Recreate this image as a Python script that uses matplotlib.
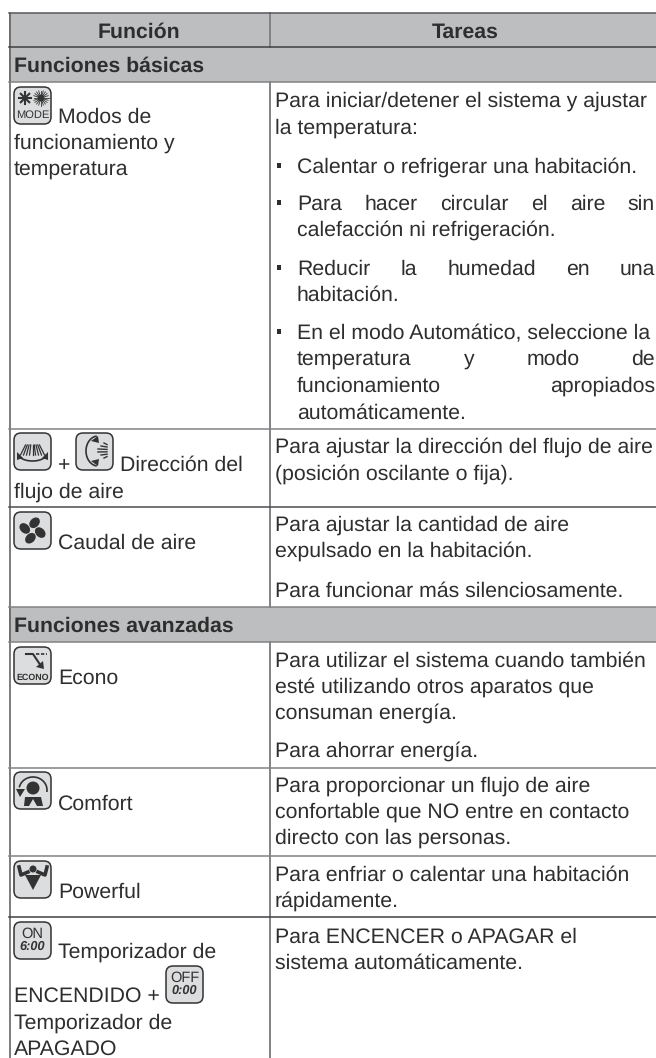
import numpy as np
import matplotlib
matplotlib.use('Agg')
import matplotlib.pyplot as plt
from matplotlib.patches import FancyBboxPatch, Rectangle, Circle, Ellipse, Polygon

plt.rcParams['font.family'] = ['Liberation Sans', 'DejaVu Sans']
plt.rcParams['text.hinting'] = 'no_hinting'
plt.rcParams['text.hinting_factor'] = 8

# table text
headers = ['Función', 'Tareas']
sections = ['Funciones básicas', 'Funciones avanzadas']

left_lines = [
    ('Modos de', 58, 123), ('funcionamiento y', 14, 149), ('temperatura', 14, 175),
    ('+', 58, 471), ('Dirección del', 120, 471), ('flujo de aire', 14, 498),
    ('Caudal de aire', 58, 549),
    ('Econo', 58, 684),
    ('Comfort', 58, 810),
    ('Powerful', 58, 898),
    ('Temporizador de', 58, 958), ('ENCENDIDO +', 14, 1002),
    ('Temporizador de', 14, 1029), ('APAGADO', 14, 1055),
]

right_lines = [
    ('Para iniciar/detener el sistema y ajustar', 275, 107),
    ('la temperatura:', 275, 134),
    ('Calentar o refrigerar una habitación.', 297, 173),
    ('calefacción ni refrigeración.', 297, 236),
    ('habitación.', 297, 301),
    ('En el modo Automático, seleccione la', 297, 339),
    ('automáticamente.', 297, 419),
    ('Para ajustar la dirección del flujo de aire', 275, 453),
    ('(posición oscilante o fija).', 275, 480),
    ('Para ajustar la cantidad de aire', 275, 531),
    ('expulsado en la habitación.', 275, 557),
    ('Para funcionar más silenciosamente.', 275, 597),
    ('Para utilizar el sistema cuando también', 275, 667),
    ('esté utilizando otros aparatos que', 275, 693),
    ('consuman energía.', 275, 719),
    ('Para ahorrar energía.', 275, 757),
    ('Para proporcionar un flujo de aire', 275, 792),
    ('confortable que NO entre en contacto', 275, 818),
    ('directo con las personas.', 275, 844),
    ('Para enfriar o calentar una habitación', 275, 881),
    ('rápidamente.', 275, 907),
    ('Para ENCENCER o APAGAR el', 275, 943),
    ('sistema automáticamente.', 275, 969),
]

# lines set with justified word spacing
justified_lines = [
    ('Para hacer circular el aire sin', 210),
    ('Reducir la humedad en una', 275),
    ('temperatura y modo de', 365),
    ('funcionamiento apropiados', 392),
]
bullet_rows = [173, 210, 275, 339]

# horizontal rules: y, colour
rules = [(13, '#58595b'), (47, '#414042'), (82, '#808285'), (429, '#808285'),
         (507, '#4d4d4f'), (607, '#808285'), (642, '#808285'), (768, '#808285'),
         (856, '#808285'), (917, '#414042')]

TXT = '#2e2e2e'
INK = '#333333'
FS = 15.35

fig = plt.figure(figsize=(6.56, 10.58), dpi=100)
ax = fig.add_axes([0, 0, 1, 1])
ax.set_xlim(0, 656)
ax.set_ylim(1058, 0)
ax.axis('off')

# grey bands
for y0, y1 in [(13, 82), (607, 642)]:
    ax.add_patch(Rectangle((9, y0), 647, y1 - y0, fc='#bcbec0', ec='none', zorder=0))

# grid
ax.plot([9.5, 9.5], [13, 1058], color='#58595b', lw=1.1, zorder=1)
for y0, y1 in [(13, 47), (82, 607), (642, 1058)]:
    ax.plot([270, 270], [y0, y1], color='#808285', lw=1.4, zorder=1)
for y, c in rules:
    ax.plot([9, 656], [y, y], color=c, lw=1.1, zorder=1)

ax.text(139, 38, headers[0], fontsize=FS, fontweight='bold', color=TXT, ha='center', va='baseline')
ax.text(465, 38, headers[1], fontsize=FS, fontweight='bold', color=TXT, ha='center', va='baseline')
ax.text(14, 72, sections[0], fontsize=FS, fontweight='bold', color=TXT, va='baseline')
ax.text(14, 632, sections[1], fontsize=FS, fontweight='bold', color=TXT, va='baseline')

for s, x, y in left_lines + right_lines:
    ax.text(x, y, s, fontsize=FS, color=TXT, va='baseline')

for y in bullet_rows:
    ax.add_patch(Rectangle((276.5, y - 10), 4, 4.6, fc=TXT, ec='none'))

# justified lines, spread between the column edges
renderer = fig.canvas.get_renderer()
for s, y in justified_lines:
    words = [ax.text(297, y, w, fontsize=FS, color=TXT, va='baseline') for w in s.split()]
    widths = [w.get_window_extent(renderer).width for w in words]
    gap = (655 - 297 - sum(widths)) / (len(words) - 1)
    x = 297
    for w, wd in zip(words, widths):
        w.set_x(x)
        x += wd + gap


def box(x, y, w=37, h=37):
    ax.add_patch(FancyBboxPatch((x + 4, y + 4), w - 8, h - 8, boxstyle='round,pad=4,rounding_size=7',
                                fc='#dcddde', ec=INK, lw=1.1, zorder=2))


def star(cx, cy, r, n, lw=0.9):
    for a in np.linspace(0, np.pi, n, endpoint=False):
        dx, dy = r * np.cos(a), r * np.sin(a)
        ax.plot([cx - dx, cx + dx], [cy - dy, cy + dy], color=INK, lw=lw, zorder=3)


def curve(cx, cy, rx, ry, a0, a1, lw=1.2):
    # screen angles, counter clockwise from the right
    t = np.radians(np.linspace(a0, a1, 40))
    ax.plot(cx + rx * np.cos(t), cy - ry * np.sin(t), color=INK, lw=lw, zorder=3)


def tri(pts):
    ax.add_patch(Polygon(pts, fc=INK, ec='none', zorder=3))


def label(x, y, s, fs, **kw):
    ax.text(x, y, s, fontsize=fs, color=INK, ha='center', va='center', zorder=3, **kw)


# mode
box(14, 87)
star(25, 98, 6, 4, 1.5)
star(41, 98, 7.5, 10, 0.6)
ax.add_patch(Circle((41, 98), 3.4, fc=INK, ec='none', zorder=4))
label(32.5, 115.5, 'MODE', 8)

# air direction, horizontal swing
box(14, 433)
for a in np.linspace(-1, 1, 9):
    ax.plot([32.5 + 7 * a, 32.5 + 12 * a], [445, 455], color=INK, lw=0.9, zorder=3)
curve(32.5, 454, 14, 7, 195, 345)
tri([[17, 452], [23, 458], [17, 460]])
tri([[48, 452], [42, 458], [48, 460]])

# air direction, vertical swing
box(76, 433)
curve(98, 451, 12, 15, 100, 260)
tri([[98, 436], [99, 443], [91, 441]])
tri([[98, 466], [99, 459], [91, 461]])
for dy, x0 in zip([-8, -5, -2, 1, 4, 7], [104, 101, 98, 98, 101, 104]):
    ax.plot([x0, 107], [451 + dy, 451 + dy * 0.8], color=INK, lw=1, zorder=3)

# fan
box(14, 512)
for a in [15, 105, 195, 285]:
    t = np.radians(a)
    ax.add_patch(Ellipse((32.5 + 8 * np.cos(t), 530.5 + 8 * np.sin(t)), 12, 9, angle=a + 30,
                         fc=INK, ec='none', zorder=3))
ax.add_patch(Circle((32.5, 530.5), 1.2, fc='#dcddde', ec='none', zorder=4))

# econo
box(14, 647)
ax.plot([26, 33, 41], [654, 654, 666], color=INK, lw=1.5, zorder=3)
ax.plot([36, 47], [654, 654], color=INK, lw=1.2, ls=(0, (2, 1)), zorder=3)
tri([[44, 669], [36, 667], [43, 661]])
label(32.5, 677.5, 'ECONO', 6.4, fontweight='bold')

# comfort
box(14, 772)
ax.add_patch(Circle((33, 788), 6.5, fc=INK, ec='none', zorder=3))
tri([[24, 806], [25, 797], [41, 797], [43, 806], [37, 806], [33, 799], [29, 806]])
curve(33, 790, 14, 13, -5, 165)
tri([[16, 789], [25, 789], [20, 797]])

# powerful
box(14, 861)
tri([[25, 875], [41, 875], [33, 890]])
ax.add_patch(Circle((33, 869), 3.5, fc=INK, ec='none', zorder=3))
ax.plot([19, 21, 28], [867, 875, 872], color=INK, lw=2.6, zorder=3)
ax.plot([47, 45, 38], [867, 875, 872], color=INK, lw=2.6, zorder=3)

# timers
box(14, 922)
label(32.5, 934, 'ON', 10.5)
label(32.5, 947, '6:00', 9.2, style='italic', fontweight='bold')
box(166, 966)
label(184.5, 978, 'OFF', 10.5)
label(184.5, 991, '0:00', 9.2, style='italic', fontweight='bold')

plt.savefig('out.png', dpi=100)
plt.close()
